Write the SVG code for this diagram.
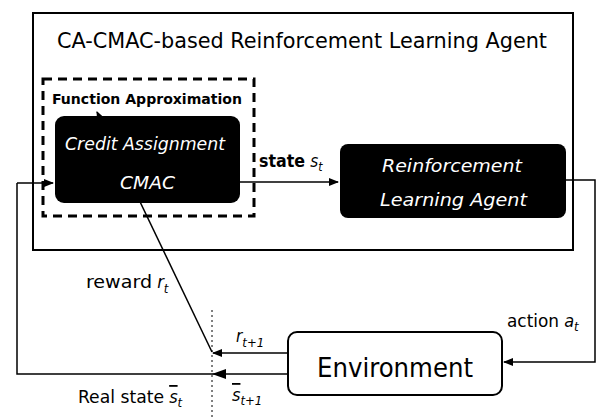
<svg xmlns="http://www.w3.org/2000/svg" width="601" height="417" viewBox="0 0 601 417">
<style>
text{font-family:"DejaVu Sans Condensed","DejaVu Sans","Liberation Sans",sans-serif;fill:#000}
.w{fill:#fff;font-style:italic}
.it{font-style:italic}
.ln{fill:none;stroke:#000;stroke-width:1.5}
.ov{text-decoration:overline}
</style>
<defs>
<marker id="ah" markerWidth="10" markerHeight="8" refX="9" refY="4" orient="auto" markerUnits="userSpaceOnUse"><path d="M0,0L10,4L0,8z" fill="#000"/></marker>
<marker id="ahs" markerWidth="7" markerHeight="6" refX="6" refY="3" orient="auto" markerUnits="userSpaceOnUse"><path d="M0,0L7,3L0,6z" fill="#000"/></marker>
<marker id="ahb" markerWidth="14" markerHeight="10" refX="13" refY="5" orient="auto" markerUnits="userSpaceOnUse"><path d="M0,0L14,5L0,10z" fill="#000"/></marker>
</defs>
<rect width="601" height="417" fill="#fff"/>
<g id="agent">
<rect x="33" y="13" width="540" height="237" fill="none" stroke="#000" stroke-width="2"/>
<text x="57" y="48" font-size="21" textLength="490" lengthAdjust="spacingAndGlyphs">CA-CMAC-based Reinforcement Learning Agent</text>
</g>
<g id="connectors">
<line x1="212" y1="310" x2="212" y2="417" stroke="#000" stroke-width="1" stroke-dasharray="2,3"/>
<path class="ln" d="M212,352 L97,112" stroke-width="1" marker-end="url(#ahs)"/>
<path class="ln" d="M17,183 L53,183" marker-end="url(#ah)"/>
<path class="ln" d="M240,182 L338,182" marker-end="url(#ah)"/>
<path class="ln" d="M565,180 L595,180 L595,362 L504,362" marker-end="url(#ah)"/>
<path class="ln" d="M287,353 L213,353" stroke-width="1.2" marker-end="url(#ah)"/>
<path class="ln" d="M287,374 L213,374" stroke-width="3" marker-end="url(#ahb)"/>
<path class="ln" d="M213,374 L17,374 L17,183" stroke-width="2.5"/>
</g>
<g id="function-approximation">
<rect x="43" y="79" width="211" height="137" fill="none" stroke="#000" stroke-width="3" stroke-dasharray="9,6"/>
<text x="52" y="104" font-size="14" font-weight="bold" textLength="190" lengthAdjust="spacingAndGlyphs">Function Approximation</text>
</g>
<g id="cmac">
<rect x="55" y="116" width="185" height="87" rx="9" fill="#000"/>
<text class="w" x="65" y="150" font-size="17" textLength="160" lengthAdjust="spacingAndGlyphs">Credit Assignment</text>
<text class="w" x="120" y="189" font-size="17" textLength="55" lengthAdjust="spacingAndGlyphs">CMAC</text>
</g>
<g id="rl-agent">
<rect x="340" y="144" width="226" height="74" rx="8" fill="#000"/>
<text class="w" x="382" y="172" font-size="18" textLength="140" lengthAdjust="spacingAndGlyphs">Reinforcement</text>
<text class="w" x="380" y="206" font-size="18" textLength="147" lengthAdjust="spacingAndGlyphs">Learning Agent</text>
</g>
<g id="environment">
<rect x="288" y="332" width="214" height="63" rx="9" fill="#fff" stroke="#000" stroke-width="2"/>
<text x="317" y="377" font-size="27" textLength="156" lengthAdjust="spacingAndGlyphs">Environment</text>
</g>
<g id="labels">
<text x="259" y="167" font-size="17" font-weight="bold"><tspan textLength="46" lengthAdjust="spacingAndGlyphs">state</tspan> <tspan class="it" font-weight="normal">s</tspan><tspan class="it" font-weight="normal" font-size="12" dy="4">t</tspan></text>
<text x="507" y="327" font-size="18"><tspan textLength="52" lengthAdjust="spacingAndGlyphs">action</tspan> <tspan class="it">a</tspan><tspan class="it" font-size="13" dy="4">t</tspan></text>
<text x="86" y="288" font-size="18"><tspan textLength="66" lengthAdjust="spacingAndGlyphs">reward</tspan> <tspan class="it">r</tspan><tspan class="it" font-size="13" dy="5">t</tspan></text>
<text x="236" y="342" font-size="17" class="it">r<tspan font-size="13" dy="5">t+1</tspan></text>
<text x="78" y="403" font-size="18"><tspan textLength="86" lengthAdjust="spacingAndGlyphs">Real state</tspan> <tspan class="it ov">s</tspan><tspan class="it" font-size="13" dy="4">t</tspan></text>
<text x="232" y="401" font-size="18" class="it"><tspan class="ov">s</tspan><tspan font-size="13" dy="4">t+1</tspan></text>
</g>
</svg>
